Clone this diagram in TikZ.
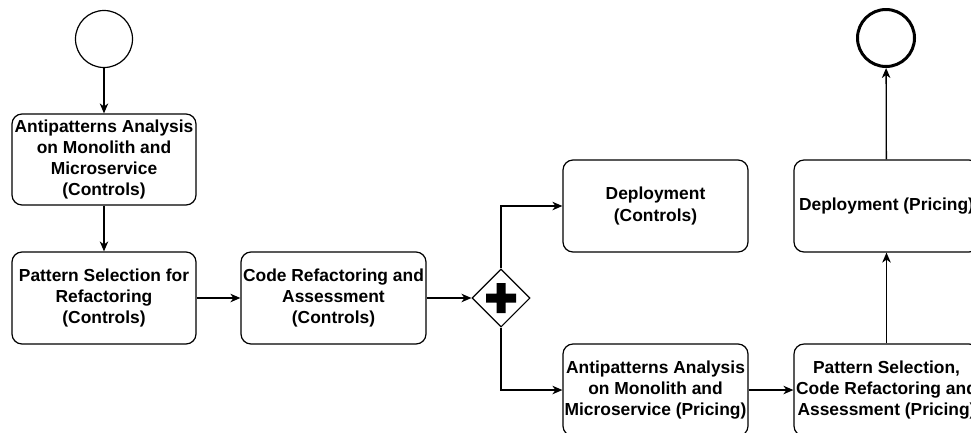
\documentclass[tikz,border=0pt]{standalone}
\usepackage{fontspec}
\setmainfont{Liberation Sans}
\usetikzlibrary{shapes.geometric,arrows.meta,calc}
\begin{document}
\begin{tikzpicture}[x=1pt,y=-1pt,
  task/.style={draw=black,line width=1.2pt,rounded corners=10pt,minimum width=185pt,minimum height=92pt,
    inner sep=0pt,align=center,font=\fontsize{17.4}{21.2}\selectfont\bfseries},
  event/.style={draw=black,circle,minimum size=57pt,inner sep=0pt},
  gateway/.style={draw=black,line width=1.1pt,diamond,minimum width=58pt,minimum height=58pt,inner sep=0pt,aspect=1},
  flow/.style={line width=1.3pt,-{Stealth[length=10pt,width=8.5pt,inset=3pt]}}]
\useasboundingbox (0,0) rectangle (971,432);

% events
\node[event,line width=1.2pt] (start) at (104,39) {};
\node[event,line width=3pt] (finish) at (886,38) {};

% activities of the Controls branch
\node[task,minimum width=184pt,minimum height=91pt] (anaC) at (104,159.5)
  {Antipatterns Analysis\\on Monolith and\\Microservice\\(Controls)};
\node[task,minimum width=184pt] (selC) at (104,298)
  {Pattern Selection for\\Refactoring\\(Controls)};
\node[task] (refC) at (333.5,298)
  {Code Refactoring and\\Assessment\\(Controls)};

% parallel gateway
\node[gateway] (gw) at (501,298) {};
\fill[black] ($(gw)+(-4.5,-15)$) -- ++(9,0) -- ++(0,10.5) -- ++(10.5,0) -- ++(0,9) -- ++(-10.5,0)
  -- ++(0,10.5) -- ++(-9,0) -- ++(0,-10.5) -- ++(-10.5,0) -- ++(0,-9) -- ++(10.5,0) -- cycle;

\node[task] (depC) at (655.5,206) {Deployment\\(Controls)};
\node[task] (anaP) at (655.5,390)
  {Antipatterns Analysis\\on Monolith and\\Microservice (Pricing)};

% activities of the Pricing branch
\node[task] (selP) at (886.5,390)
  {Pattern Selection,\\Code Refactoring and\\Assessment (Pricing)};
\node[task] (depP) at (886.5,206) {Deployment (Pricing)};

% sequence flows
\draw[flow] (start) -- (anaC);
\draw[flow] (anaC) -- (selC);
\draw[flow] (selC) -- (refC);
\draw[flow] (refC) -- (gw);
\draw[flow] (gw.north) |- (depC.west);
\draw[flow] (gw.south) |- (anaP.west);
\draw[flow] (anaP) -- (selP);
\draw[flow] (selP) -- (depP);
\draw[flow] (depP) -- (finish);
\end{tikzpicture}
\end{document}
